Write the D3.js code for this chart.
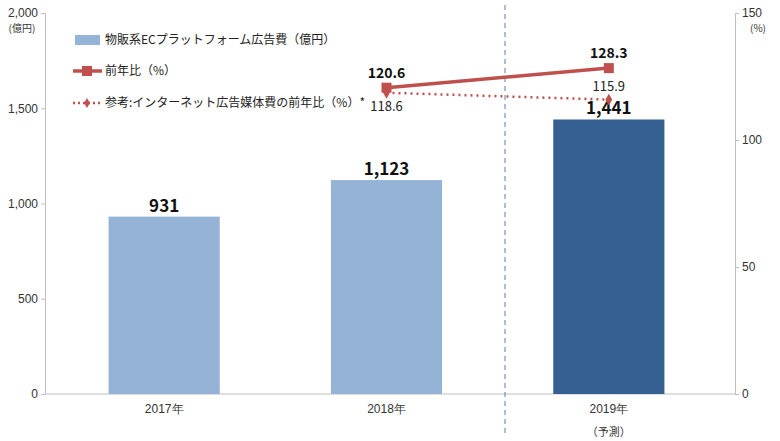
<!DOCTYPE html>
<html><head><meta charset="utf-8">
<script src="https://cdn.jsdelivr.net/npm/d3@7"></script>
<style>body{margin:0;background:#fff;font-family:"Noto Sans CJK JP","Noto Sans",sans-serif;}</style>
</head><body><div class="viz"></div>
<script>
// data
const years = ['2017年', '2018年', '2019年'];
const adSpend = [931, 1123, 1441];
const yoy = [null, 120.6, 128.3];
const netYoy = [null, 118.6, 115.9];
const leftTicks = [0, 500, 1000, 1500, 2000];
const rightTicks = [0, 50, 100, 150];

const W = 780, H = 441;
const m = {top: 13, right: 45, bottom: 47, left: 45};
const svg = d3.select('div.viz').append('svg').attr('width', W).attr('height', H);

const x = d3.scaleBand().domain(years).range([m.left + 8, W - m.right - 15]).paddingInner(0.5).paddingOuter(0.25);
const yL = d3.scaleLinear().domain([0, 2000]).range([H - m.bottom, m.top]);
const yR = d3.scaleLinear().domain([0, 150]).range([H - m.bottom, m.top]);
const cx = d => x(d) + x.bandwidth() / 2;

// axes
const gl = svg.append('g').attr('transform', `translate(${m.left},0)`)
    .call(d3.axisLeft(yL).tickValues(leftTicks).tickFormat(d3.format(',')).tickSize(4));
const gr = svg.append('g').attr('transform', `translate(${W - m.right},0)`)
    .call(d3.axisRight(yR).tickValues(rightTicks).tickSize(4));
const gb = svg.append('g').attr('transform', `translate(0,${H - m.bottom})`)
    .call(d3.axisBottom(x).tickSize(0).tickPadding(10));
gb.select('.domain').attr('d', `M${m.left},0H${W - m.right}`);
[gl, gr, gb].forEach(g => {
  g.selectAll('.domain,line').attr('stroke', '#bfbfbf');
  g.selectAll('text').attr('fill', '#333').style('font-size', '12px').style('font-family', 'inherit');
});
svg.append('text').attr('x', 22).attr('y', 32).attr('text-anchor', 'middle').attr('font-size', 10).attr('fill', '#333').text('(億円)');
svg.append('text').attr('x', W - 22).attr('y', 32).attr('text-anchor', 'middle').attr('font-size', 10).attr('fill', '#333').text('(%)');
svg.append('text').attr('x', cx(years[2])).attr('y', H - 5).attr('text-anchor', 'middle').attr('font-size', 11).attr('fill', '#333').text('（予測）');

// divider
svg.append('line').attr('x1', 505).attr('x2', 505).attr('y1', 5).attr('y2', H - 8)
  .attr('stroke', '#5b7fb0').attr('stroke-dasharray', '5,4');

// bars
svg.selectAll('rect.bar').data(adSpend).enter().append('rect')
  .attr('x', (d, i) => x(years[i])).attr('width', x.bandwidth())
  .attr('y', d => yL(d)).attr('height', d => yL(0) - yL(d))
  .attr('fill', (d, i) => i === 2 ? '#376092' : '#95b3d7');
svg.selectAll('text.bl').data(adSpend).enter().append('text')
  .attr('x', (d, i) => cx(years[i])).attr('y', d => yL(d) - 5)
  .attr('text-anchor', 'middle').attr('font-size', 17).attr('font-weight', 'bold').attr('fill', '#111')
  .text(d3.format(','));

// lines
const idx = [1, 2];
const line = arr => d3.line().x(i => cx(years[i])).y(i => yR(arr[i]));
svg.append('path').attr('d', line(netYoy)(idx)).attr('fill', 'none').attr('stroke', '#c0504d').attr('stroke-width', 2.5).attr('stroke-dasharray', '2,4');
svg.append('path').attr('d', line(yoy)(idx)).attr('fill', 'none').attr('stroke', '#c0504d').attr('stroke-width', 3.5);
idx.forEach(i => {
  svg.append('rect').attr('x', cx(years[i]) - 5).attr('y', yR(yoy[i]) - 5).attr('width', 10).attr('height', 10).attr('fill', '#c0504d');
  svg.append('path').attr('transform', `translate(${cx(years[i])},${yR(netYoy[i])})`)
    .attr('d', d3.symbol(d3.symbolDiamond, 40)()).attr('fill', '#c0504d');
  svg.append('text').attr('x', cx(years[i])).attr('y', yR(yoy[i]) - 10).attr('text-anchor', 'middle')
    .attr('font-size', 14).attr('font-weight', 'bold').attr('fill', '#111').text(yoy[i]);
});
svg.append('text').attr('x', cx(years[1])).attr('y', yR(netYoy[1]) + 18).attr('text-anchor', 'middle').attr('font-size', 13).attr('fill', '#222').text(netYoy[1]);
svg.append('text').attr('x', cx(years[2])).attr('y', yR(netYoy[2]) - 9).attr('text-anchor', 'middle').attr('font-size', 13).attr('fill', '#222').text(netYoy[2]);

// legend
const lg = svg.append('g').attr('font-size', 12).attr('fill', '#222');
lg.append('rect').attr('x', 75).attr('y', 35).attr('width', 25).attr('height', 10).attr('fill', '#95b3d7');
lg.append('text').attr('x', 105).attr('y', 44).text('物販系ECプラットフォーム広告費（億円）');
lg.append('line').attr('x1', 73).attr('x2', 102).attr('y1', 71).attr('y2', 71).attr('stroke', '#c0504d').attr('stroke-width', 3.5);
lg.append('rect').attr('x', 82).attr('y', 66).attr('width', 10).attr('height', 10).attr('fill', '#c0504d');
lg.append('text').attr('x', 105).attr('y', 75).text('前年比（%）');
lg.append('line').attr('x1', 73).attr('x2', 102).attr('y1', 103).attr('y2', 103).attr('stroke', '#c0504d').attr('stroke-width', 2.5).attr('stroke-dasharray', '2,3');
lg.append('path').attr('transform', 'translate(87,103)').attr('d', d3.symbol(d3.symbolDiamond, 30)()).attr('fill', '#c0504d');
lg.append('text').attr('x', 105).attr('y', 107).text('参考:インターネット広告媒体費の前年比（%）*');
</script></body></html>
